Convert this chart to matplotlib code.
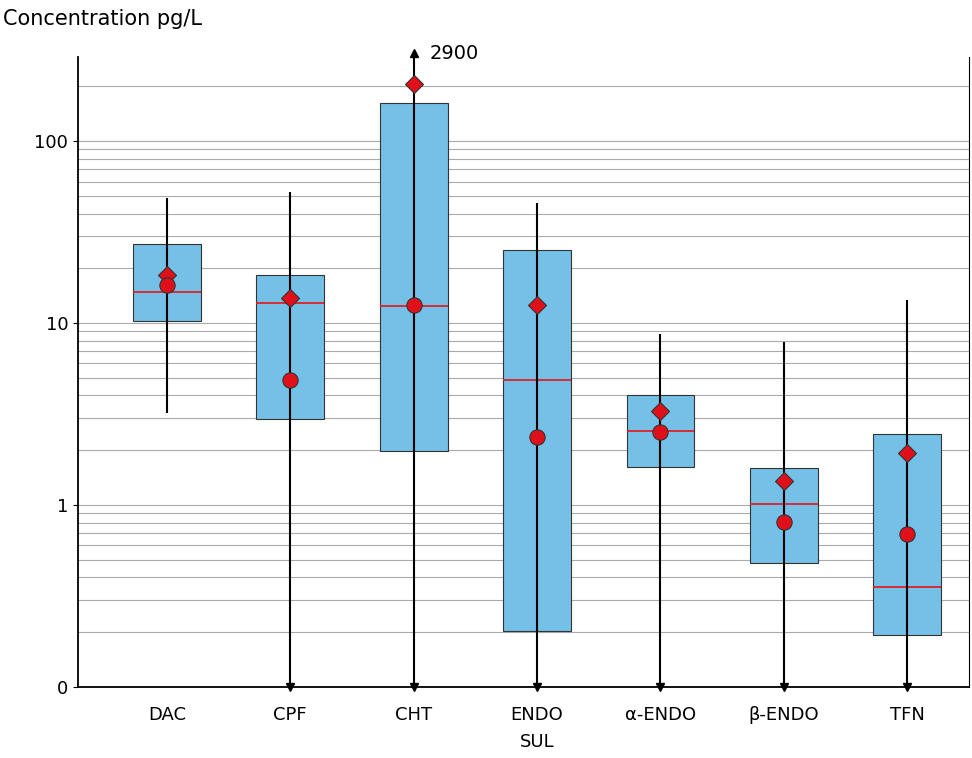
import matplotlib
matplotlib.use("Agg")
import matplotlib.pyplot as plt
import numpy as np

categories = ["DAC", "CPF", "CHT", "ENDO\nSUL", "α-ENDO", "β-ENDO", "TFN"]
q3 = [27.2, 18.3, 163, 25.1, 4.02, 1.6, 2.45]
q1 = [10.3, 2.97, 1.98, 0.203, 1.62, 0.48, 0.193]
median = [14.8, 12.9, 12.4, 4.86, 2.55, 1.01, 0.354]
wmax = [49, 52.5, 2900, 45.6, 8.7, 7.86, 13.4]
wmin = [3.2, 0.1, 0.1, 0.1, 0.1, 0.1, 0.1]
mean = [18.3, 13.7, 206, 12.5, 3.28, 1.35, 1.93]   # diamonds
geo = [16.2, 4.86, 12.5, 2.36, 2.52, 0.81, 0.693]  # circles

YMIN, YMAX = 0.1, 290
fig = plt.figure(figsize=(9.72, 7.58), dpi=100)
ax = fig.add_axes([78/972, 1-687/758, (969-78)/972, (687-57)/758])
ax.set_yscale("log")
ax.set_ylim(YMIN, YMAX)
ax.set_xlim(-0.72, 6.5)
x = np.arange(len(categories))

ax.yaxis.grid(True, which="both", color="#aaaaaa", lw=0.8)
ax.set_axisbelow(True)

ax.bar(x, np.array(q3) - np.array(q1), bottom=q1, width=0.55,
       color="#74c0e6", edgecolor="#333333", lw=0.8, zorder=2)
ax.hlines(median, x - 0.275, x + 0.275, color="#e0202a", lw=1.3, zorder=3)
for xi, lo, hi in zip(x, wmin, wmax):
    top = min(hi, YMAX * 1.05)
    ax.vlines(xi, lo, top, color="black", lw=1.5, zorder=4)
    if lo <= YMIN:
        ax.plot(xi, YMIN, marker="v", color="black", ms=6, zorder=5, clip_on=False)
    if hi > YMAX:
        ax.plot(xi, YMAX * 1.05, marker="^", color="black", ms=6, zorder=5, clip_on=False)
        ax.text(xi + 0.13, YMAX * 1.05, f"{hi:g}", fontsize=14, va="center", ha="left")
ax.plot(x, mean, "D", color="#e0101a", mec="#333333", mew=0.8, ms=9, zorder=6)
ax.plot(x, geo, "o", color="#e0101a", mec="#333333", mew=0.8, ms=11, zorder=6)

ax.set_yticks([0.1, 1, 10, 100])
ax.set_yticklabels(["0", "1", "10", "100"], fontsize=13)
ax.yaxis.set_minor_formatter(matplotlib.ticker.NullFormatter())
ax.tick_params(axis="y", which="minor", length=0)
ax.set_xticks(x)
ax.set_xticklabels(categories, fontsize=13, linespacing=1.6)
ax.tick_params(axis="x", length=0, pad=14)
ax.spines["top"].set_visible(False)
for s in ["left", "bottom", "right"]:
    ax.spines[s].set_linewidth(1.3)
ax.spines["right"].set_linewidth(0.8)
fig.text(0.003, 0.975, "Concentration pg/L", fontsize=15, va="center")
fig.savefig("out.png")
